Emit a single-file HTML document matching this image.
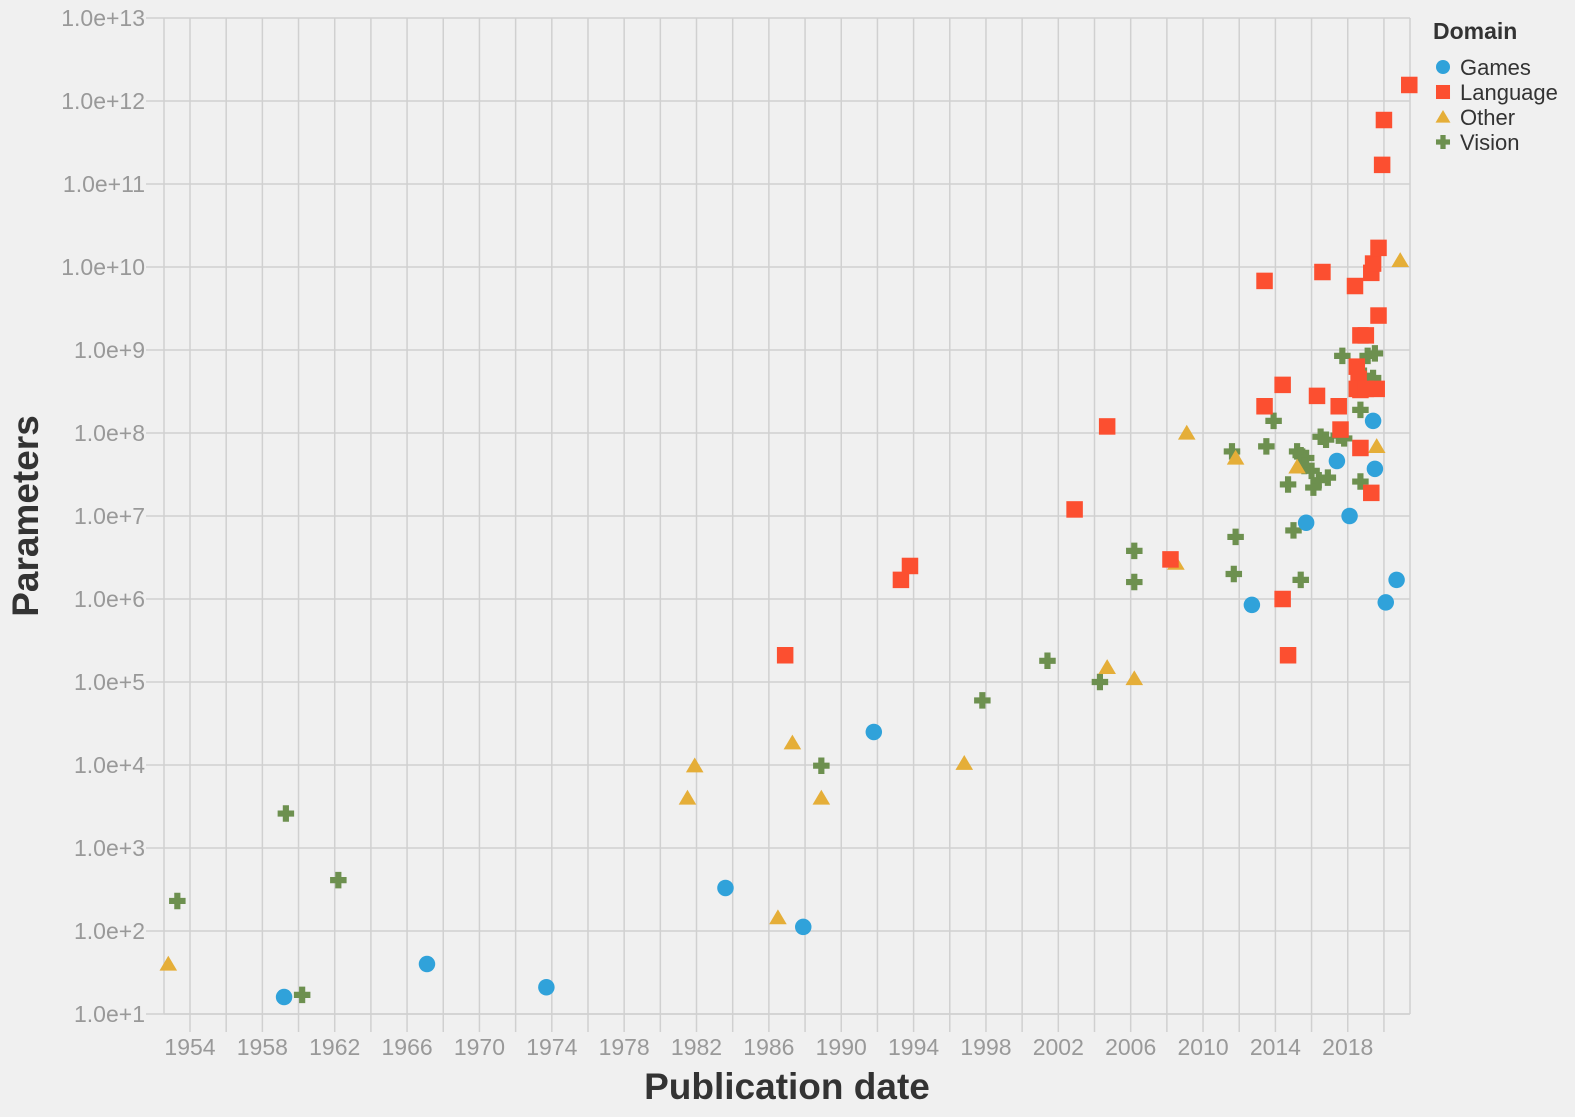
<!DOCTYPE html>
<html><head><meta charset="utf-8"><style>
body{margin:0;background:#f0f0f0;}
svg{display:block;font-family:"Liberation Sans",sans-serif;}
</style></head><body>
<svg id="chart" width="1575" height="1117" viewBox="0 0 1575 1117">
<rect width="1575" height="1117" fill="#f0f0f0"/>
<g id="grid"></g>
<g id="xaxis"></g>
<g id="yaxis"></g>
<g id="marks"></g>
<text x="0" y="0" transform="translate(38,516) rotate(-90)" text-anchor="middle" font-size="37" font-weight="bold" fill="#333">Parameters</text>
<text x="787" y="1099" text-anchor="middle" font-size="37" font-weight="bold" fill="#333">Publication date</text>
<g>
<text x="1433" y="39" font-size="23" font-weight="bold" fill="#333">Domain</text>
<g id="legend"></g>
</g>
</svg>
<script>
const domains = ["Games","Language","Other","Vision"];
const colors = ["#30a2da","#fc4f30","#e5ae38","#6d904f"];
const gamesYear = [1959.2,1967.1,1973.7,1983.6,1987.9,1991.8,2012.7,2015.7,2017.4,2018.1,2019.4,2019.5,2020.1,2020.7];
const gamesParams = [16,40,21,330,112,25000,8.5e5,8.3e6,4.6e7,1e7,1.4e8,3.7e7,9.1e5,1.7e6];
const languageYear = [1986.9,1993.3,1993.8,2002.9,2004.7,2008.2,2013.4,2013.4,2014.4,2014.4,2014.7,2016.3,2016.6,2017.5,2017.6,2018.4,2018.5,2018.6,2018.7,2018.5,2018.7,2019.0,2018.7,2019.3,2019.4,2019.7,2019.7,2019.6,2019.0,2019.3,2019.9,2020.0,2021.4];
const languageParams = [2.1e5,1.7e6,2.5e6,1.2e7,1.2e8,3e6,6.8e9,2.1e8,3.8e8,1e6,2.1e5,2.8e8,8.7e9,2.1e8,1.1e8,5.9e9,6.3e8,4.5e8,3.3e8,3.4e8,1.5e9,1.5e9,6.6e7,8.5e9,1.1e10,1.7e10,2.6e9,3.4e8,3.4e8,1.9e7,1.7e11,5.9e11,1.56e12];
const otherYear = [1952.8,1981.5,1981.9,1986.5,1987.3,1988.9,1996.8,2004.7,2006.2,2008.5,2009.1,2011.8,2015.2,2019.6,2020.9];
const otherParams = [40,4000,9800,145,1.85e4,4000,1.05e4,1.5e5,1.1e5,2.7e6,1e8,5e7,3.9e7,6.9e7,1.2e10];
const visionYear = [1953.3,1959.3,1960.2,1962.2,1988.9,1997.8,2001.4,2004.3,2006.2,2006.2,2011.6,2011.8,2011.7,2013.5,2013.9,2014.7,2015.0,2015.4,2015.2,2015.4,2015.7,2015.6,2016.0,2016.1,2016.4,2016.5,2016.8,2016.9,2017.7,2017.5,2017.8,2018.7,2018.7,2018.9,2019.1,2019.5,2019.4];
const visionParams = [230,2600,17,410,9800,6e4,1.8e5,1e5,3.8e6,1.6e6,6e7,5.6e6,2e6,6.9e7,1.4e8,2.4e7,6.7e6,1.7e6,6e7,5.4e7,5e7,4e7,3.5e7,2.2e7,2.7e7,9e7,8.3e7,2.9e7,8.5e8,9.3e7,8.6e7,1.9e8,2.6e7,4.9e8,8.5e8,9.1e8,4.6e8];
const yTickExp = [1,2,3,4,5,6,7,8,9,10,11,12,13];
const xTickYears = [1954,1958,1962,1966,1970,1974,1978,1982,1986,1990,1994,1998,2002,2006,2010,2014,2018];

const L=164,R=1410,T=18,B=1014;
const pxPerYear=18.09, x1954=190;
function xs(yr){return x1954+(yr-1954)*pxPerYear;}
function ys(v){return B-(Math.log10(v)-1)*(B-T)/12;}
const NS="http://www.w3.org/2000/svg";
function mk(tag,attrs,parent){const e=document.createElementNS(NS,tag);for(const k in attrs)e.setAttribute(k,attrs[k]);parent.appendChild(e);return e;}
const grid=document.getElementById('grid'),xa=document.getElementById('xaxis'),ya=document.getElementById('yaxis'),marks=document.getElementById('marks');
for(let yr=1954;xs(yr)<=R;yr+=2){
  const x=xs(yr);
  const g=mk('line',{x1:x,x2:x,y1:T,y2:B,stroke:'#d0d0d0','stroke-width':1.5},grid);
  
  
  const t=mk('line',{x1:x,x2:x,y1:B,y2:B+18,stroke:'#d0d0d0','stroke-width':1.5},xa);
  
  
}
xTickYears.forEach(yr=>{
  const t=mk('text',{x:xs(yr),y:1055,'text-anchor':'middle','font-size':23,fill:'#999'},xa);
  t.textContent=yr;
  
  
});
yTickExp.forEach(e=>{
  const y=ys(Math.pow(10,e));
  const g=mk('line',{x1:L-18,x2:R,y1:y,y2:y,stroke:'#d0d0d0','stroke-width':1.5},grid);
  
  
  const t=mk('text',{x:145,y:y+8,'text-anchor':'end','font-size':23,fill:'#999'},ya);
  t.textContent='1.0e+'+e;
  
  
});
const ax=mk('line',{x1:L,x2:R,y1:B,y2:B,stroke:'#d0d0d0','stroke-width':1.5},xa);


const ay=mk('line',{x1:L,x2:L,y1:T,y2:B,stroke:'#d0d0d0','stroke-width':1.5},ya);


const rx=mk('line',{x1:R,x2:R,y1:T,y2:B,stroke:'#d0d0d0','stroke-width':1.5},grid);



function symbol(i,x,y,parent,s){
  s=(s||1)*1.1;let e;
  if(i===0)e=mk('circle',{cx:x,cy:y,r:7.5*s,fill:colors[0]},parent);
  else if(i===1)e=mk('rect',{x:x-7.5*s,y:y-7.5*s,width:15*s,height:15*s,fill:colors[1]},parent);
  else if(i===2)e=mk('path',{d:`M${x},${y-7.5*s}L${x+8*s},${y+6*s}L${x-8*s},${y+6*s}Z`,fill:colors[2]},parent);
  else e=mk('path',{d:`M${x-2.8*s},${y-7.5*s}h${5.6*s}v${4.7*s}h${4.7*s}v${5.6*s}h${-4.7*s}v${4.7*s}h${-5.6*s}v${-4.7*s}h${-4.7*s}v${-5.6*s}h${4.7*s}Z`,fill:colors[3]},parent);
  return e;
}
const series=[[gamesYear,gamesParams,'games-point'],[languageYear,languageParams,'language-point'],[otherYear,otherParams,'other-point'],[visionYear,visionParams,'vision-point']];
[3,2,1,0].forEach(i=>{
  const [yrs,ps,nm]=series[i];
  yrs.forEach((yr,j)=>{
    const e=symbol(i,xs(yr),ys(ps[j]),marks);
    
    
  });
});
const lg=document.getElementById('legend');
domains.forEach((d,i)=>{
  const y=67+i*25;
  const g=mk('g',{},lg);
  
  
  symbol(i,1443,y,g,0.85);
  const t=mk('text',{x:1460,y:y+8,'font-size':22,fill:'#333'},g);
  t.textContent=d;
});
</script>
</body></html>
